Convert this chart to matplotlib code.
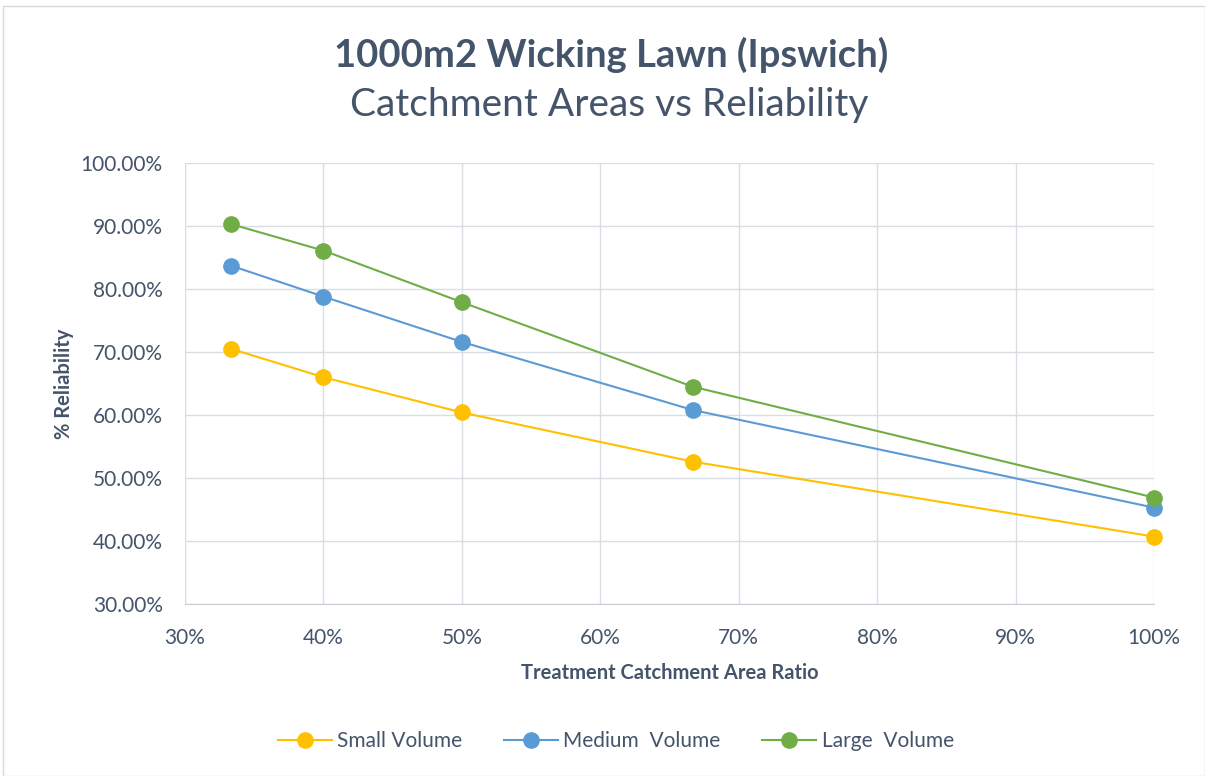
import matplotlib
matplotlib.use("Agg")
import matplotlib.pyplot as plt
from matplotlib.ticker import FuncFormatter, MultipleLocator
from matplotlib.patches import Rectangle

ratios = [33.33, 40, 50, 66.67, 100]
small = [70.5, 66.0, 60.4, 52.6, 40.7]
medium = [83.7, 78.8, 71.6, 60.8, 45.3]
large = [90.3, 86.1, 77.9, 64.5, 46.9]
series_names = ["Small Volume", "Medium  Volume", "Large  Volume"]
colors = ["#FFC000", "#5B9BD5", "#70AD47"]

txt = "#44546A"
plt.rcParams['font.family'] = ['Lato', 'DejaVu Sans']

fig = plt.figure(figsize=(12.05, 7.76), dpi=100)
fig.patches.append(Rectangle((3/1205, 0), 1 - 3/1205, 1 - 6/776, transform=fig.transFigure,
                             fill=False, edgecolor="#D9D9D9", linewidth=1))
ax = fig.add_axes([185/1205, 1 - 604/776, (1154 - 185)/1205, (604 - 163)/776])

for vals, name, c in zip([small, medium, large], series_names, colors):
    ax.plot(ratios, vals, color=c, linewidth=1.5, marker='o', markersize=11,
            markerfacecolor=c, markeredgecolor=c, label=name, clip_on=False, zorder=3)

ax.set_xlim(30, 100)
ax.set_ylim(30, 100)
ax.xaxis.set_major_locator(MultipleLocator(10))
ax.yaxis.set_major_locator(MultipleLocator(10))
ax.xaxis.set_major_formatter(FuncFormatter(lambda v, p: f"{v:.0f}%"))
ax.yaxis.set_major_formatter(FuncFormatter(lambda v, p: f"{v:.2f}%"))
ax.grid(True, color="#D9DDE4", linewidth=1)
ax.set_axisbelow(True)
for s in ['top', 'right']:
    ax.spines[s].set_visible(False)
ax.spines['bottom'].set_color("#C9CED6")
ax.spines['left'].set_visible(False)
ax.tick_params(length=0, labelsize=15, colors=txt)
ax.tick_params(axis='y', pad=16)
ax.tick_params(axis='x', pad=17)

ax.set_xlabel("Treatment Catchment Area Ratio", fontsize=14.5, fontweight='bold', color=txt, labelpad=11)
ax.set_ylabel("% Reliability", fontsize=14.5, fontweight='bold', color=txt, labelpad=5)

fig.text(0.507, 1 - 55/776, "1000m2 Wicking Lawn (Ipswich)", ha='center', va='center',
         fontsize=27.5, fontweight='bold', color=txt)
fig.text(0.5055, 1 - 105/776, "Catchment Areas vs Reliability", ha='center', va='center',
         fontsize=28, color=txt)

leg = fig.legend(loc='center', bbox_to_anchor=(0.511, 1 - 741/776), ncol=3, frameon=False,
                 fontsize=15, handlelength=2.6, columnspacing=2.0, handletextpad=0.25)
for t in leg.get_texts():
    t.set_color(txt)

fig.savefig("out.png", dpi=100)
